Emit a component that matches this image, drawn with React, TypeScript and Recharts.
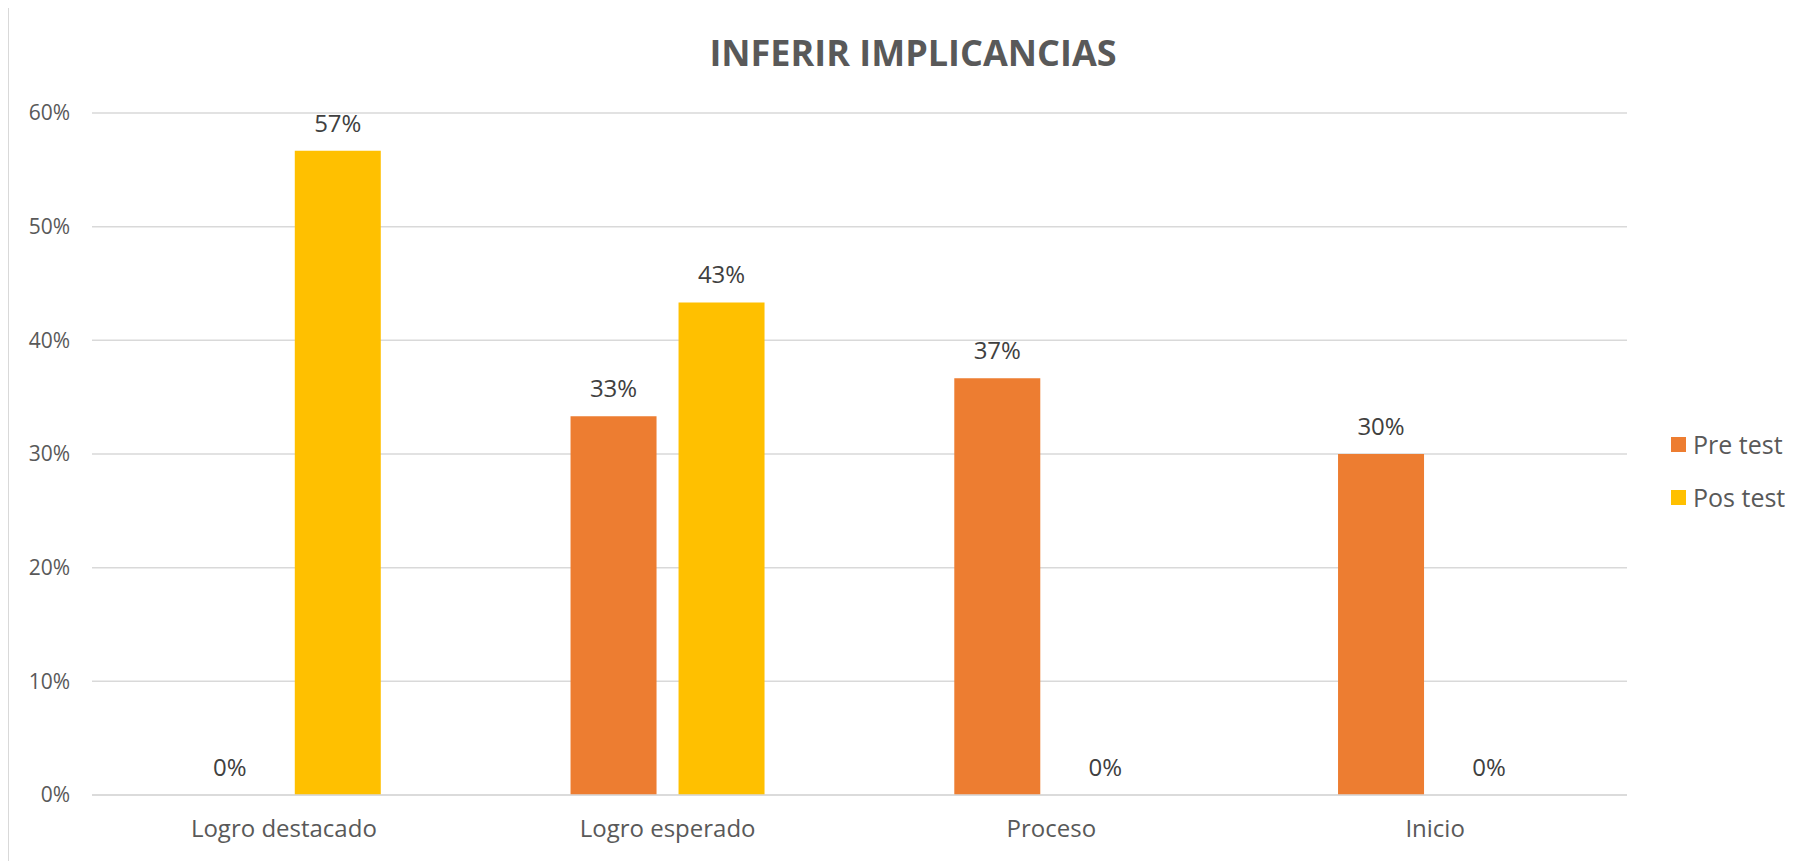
import React from 'react'
import {BarChart, Bar, XAxis, YAxis, CartesianGrid, LabelList} from 'recharts';

const categories = ['Logro destacado', 'Logro esperado', 'Proceso', 'Inicio'];
const preTest = [0, 33.33, 36.67, 30];
const posTest = [56.67, 43.33, 0, 0];
const yTicks = [0, 10, 20, 30, 40, 50, 60];
const seriesNames = ['Pre test', 'Pos test'];
const seriesColors = ['#ED7D31', '#FFC000'];

const data = categories.map((name, i) => ({
    name,
    pre: preTest[i],
    pos: posTest[i]
}));

const FONT = '"Open Sans", "Liberation Sans", sans-serif';
const pct = (v: any) => Math.round(Number(v)) + '%';

const App = () => {
    return (
    <div style={{position: 'relative', top: -1, width: 1830, height: 880, border: '1.5px solid #d9d9d9', fontFamily: FONT, boxSizing: 'border-box'}}>
      <div style={{position: 'absolute', left: 0, width: 1808, top: 20, textAlign: 'center', fontSize: 36, fontWeight: 700, color: '#595959'}}>
        INFERIR IMPLICANCIAS
      </div>
      <BarChart width={1803} height={853} data={data} barGap={22} barCategoryGap="24.7%"
        margin={{top: 105, right: 185, left: 0, bottom: 0}}>
        <CartesianGrid vertical={false} stroke="#d9d9d9" strokeWidth={1.5}/>
        <XAxis dataKey="name" height={66} tickLine={false} tickMargin={19}
          axisLine={{stroke: '#d9d9d9', strokeWidth: 1.5}}
          tick={{fill: '#595959', fontSize: 24, fontFamily: FONT}}/>
        <YAxis width={83} domain={[0, 60]} ticks={yTicks} tickFormatter={(v) => v + '%'}
          axisLine={false} tickLine={false} tickMargin={16}
          tick={{fill: '#595959', fontSize: 21, fontFamily: FONT}}/>
        <Bar dataKey="pre" name={seriesNames[0]} fill={seriesColors[0]} minPointSize={0.01} isAnimationActive={false}>
          <LabelList dataKey="pre" position="top" offset={19} formatter={pct}
            style={{fill: '#404040', fontSize: 24, fontFamily: FONT}}/>
        </Bar>
        <Bar dataKey="pos" name={seriesNames[1]} fill={seriesColors[1]} minPointSize={0.01} isAnimationActive={false}>
          <LabelList dataKey="pos" position="top" offset={19} formatter={pct}
            style={{fill: '#404040', fontSize: 24, fontFamily: FONT}}/>
        </Bar>
      </BarChart>
      {seriesNames.map((s, i) => (
        <div key={s} style={{position: 'absolute', left: 1662, top: 419 + i * 53, display: 'flex', alignItems: 'center', fontSize: 25, color: '#595959'}}>
          <span style={{display: 'inline-block', width: 15, height: 15, background: seriesColors[i], marginRight: 7}}/>
          {s}
        </div>
      ))}
    </div>
  )
};

export default App;
